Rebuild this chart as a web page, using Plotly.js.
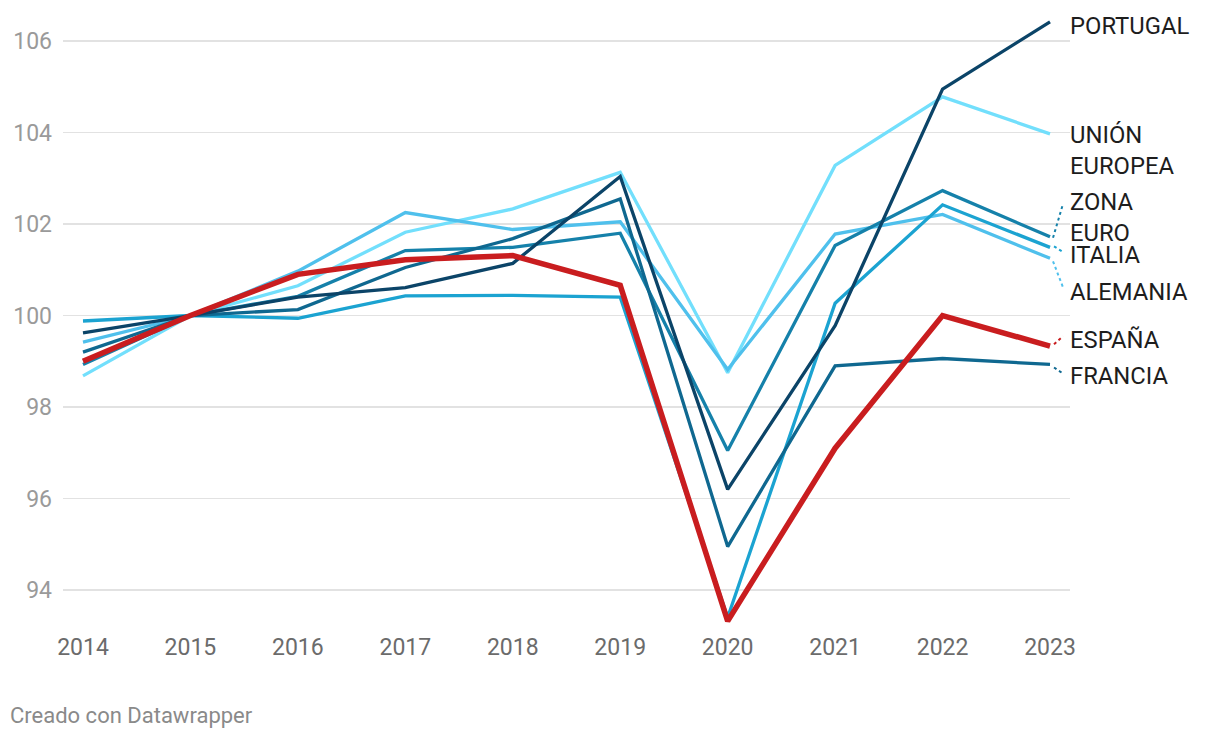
<!DOCTYPE html>
<html>
<head>
<meta charset="utf-8">
<script src="https://cdn.plot.ly/plotly-3.0.1.min.js"></script>
<style>
  html, body { margin: 0; padding: 0; background: #fff; }
  #chart { width: 1220px; height: 738px; }
</style>
</head>
<body>
<div id="chart"></div>
<script>
// ---- data ----
const years = [2014, 2015, 2016, 2017, 2018, 2019, 2020, 2021, 2022, 2023];

const unionEuropea = [98.68, 100, 100.65, 101.82, 102.33, 103.13, 98.75, 103.28, 104.78, 103.97];
const alemania     = [99.42, 100, 100.97, 102.25, 101.88, 102.05, 98.82, 101.78, 102.21, 101.25];
const italia       = [99.88, 100, 99.94, 100.43, 100.44, 100.40, 93.40, 100.27, 102.42, 101.49];
const zonaEuro     = [98.93, 100, 100.42, 101.42, 101.49, 101.80, 97.05, 101.53, 102.73, 101.72];
const francia      = [99.20, 100, 100.13, 101.05, 101.68, 102.55, 94.95, 98.90, 99.06, 98.93];
const portugal     = [99.62, 100, 100.40, 100.61, 101.14, 103.04, 96.20, 99.78, 104.95, 106.42];
const espana       = [99.00, 100, 100.90, 101.22, 101.31, 100.66, 93.32, 97.10, 100.00, 99.33];

const seriesNames  = ["UE", "Alemania", "Italia", "Zona Euro", "Francia", "Portugal", "España"];
const seriesLabels = ["UNIÓN<br>EUROPEA", "ALEMANIA", "ITALIA", "ZONA<br>EURO", "FRANCIA", "PORTUGAL", "ESPAÑA"];
const seriesValues = [unionEuropea, alemania, italia, zonaEuro, francia, portugal, espana];

const yTicks = [94, 96, 98, 100, 102, 104, 106];

// ---- style ----
const colors = ["#72dffc", "#4fc0ec", "#1ba3d1", "#1581aa", "#0f6890", "#0b4468", "#c91d1f"];
const widths = [3.3, 3.3, 3.3, 3.3, 3.3, 3.3, 5.5];
// label offsets (px, + is up) and connector offsets [dx0, dy0, dx1, dy1]
const labelShift = [-17, -34, -8, 19, -12, -4, 6];
const connectors = [null, [3, -3, 13, -29], [4, 1, 12, -4], [3, -1, 13, 33], [4, -3, 13, -9], null, [4, 2, 13, 10]];

const font = "Roboto, 'Noto Sans', sans-serif";
const last = years.length - 1;

const traces = seriesValues.map((vals, i) => ({
  x: years,
  y: vals,
  type: "scatter",
  mode: "lines",
  name: seriesNames[i],
  line: { color: colors[i], width: widths[i], shape: "linear" },
  hoverinfo: "x+y+name"
}));

const annotations = seriesValues.map((vals, i) => ({
  x: years[last],
  y: vals[last],
  xref: "x",
  yref: "y",
  text: seriesLabels[i],
  showarrow: false,
  xanchor: "left",
  yanchor: "middle",
  align: "left",
  xshift: 18,
  yshift: labelShift[i],
  font: { family: font, size: 23.8, color: "#1d1d1d" }
}));

annotations.push({
  text: "Creado con Datawrapper",
  xref: "paper", yref: "paper",
  x: 0, y: 0,
  xanchor: "left", yanchor: "middle",
  xshift: -55, yshift: -85,
  showarrow: false,
  font: { family: font, size: 22, color: "#8a8a8a" }
});

const shapes = [];
seriesValues.forEach((vals, i) => {
  const c = connectors[i];
  if (!c) return;
  shapes.push({
    type: "line",
    xref: "x", yref: "y",
    xsizemode: "pixel", ysizemode: "pixel",
    xanchor: years[last], yanchor: vals[last],
    x0: c[0], y0: c[1], x1: c[2], y1: c[3],
    line: { color: colors[i], width: 2, dash: "dot" }
  });
});

const layout = {
  width: 1220,
  height: 738,
  margin: { l: 63, r: 150, t: 10, b: 108 },
  paper_bgcolor: "#ffffff",
  plot_bgcolor: "#ffffff",
  showlegend: false,
  font: { family: font },
  xaxis: {
    range: [2013.814, 2023.186],
    tickvals: years,
    ticktext: years.map(String),
    showgrid: false,
    zeroline: false,
    showline: false,
    ticks: "",
    ticklabelstandoff: 1,
    tickfont: { family: font, size: 23, color: "#6b6b6b" },
    fixedrange: true
  },
  yaxis: {
    range: [93.126, 106.678],
    tickvals: yTicks,
    ticktext: yTicks.map(String),
    showgrid: true,
    gridcolor: "#e2e2e2",
    gridwidth: 1.5,
    zeroline: false,
    showline: false,
    ticks: "",
    ticklabelstandoff: 10,
    tickfont: { family: font, size: 23, color: "#9a9a9a" },
    fixedrange: true
  },
  annotations: annotations,
  shapes: shapes
};

Plotly.newPlot("chart", traces, layout, { displayModeBar: false, staticPlot: true });
</script>
</body>
</html>
